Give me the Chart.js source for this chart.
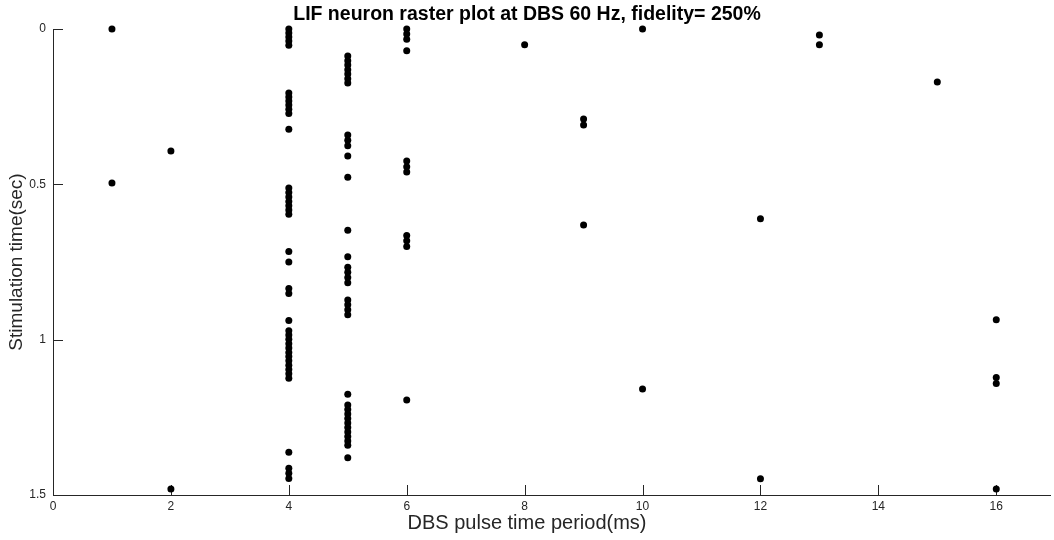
<!DOCTYPE html>
<html>
<head>
<meta charset="utf-8">
<title>LIF raster</title>
<script src="https://cdn.jsdelivr.net/npm/chart.js@4.4.1/dist/chart.umd.min.js"></script>
<style>
  html, body { margin: 0; padding: 0; background: #fff; overflow: hidden; }
  #box { width: 1054px; height: 540px; position: relative; }
</style>
</head>
<body>
<div id="box"><canvas id="rasterChart"></canvas></div>
<script>
// spike times (sec), one array per DBS pulse period (ms)
const spikes1 = [0, 0.496];
const spikes2 = [0.393, 1.481];
const spikes4 = [0, 0.013, 0.026, 0.039, 0.052, 0.206, 0.219, 0.232, 0.245, 0.258, 0.272, 0.323,
    0.512, 0.526, 0.541, 0.555, 0.569, 0.583, 0.596, 0.716, 0.750, 0.835, 0.851, 0.938,
    0.971, 0.985, 0.999, 1.013, 1.027, 1.041, 1.054, 1.068, 1.082, 1.096, 1.110, 1.124,
    1.362, 1.414, 1.430, 1.447];
const spikes5 = [0.087, 0.102, 0.116, 0.131, 0.145, 0.160, 0.174, 0.341, 0.358, 0.376, 0.409, 0.477,
    0.648, 0.733, 0.767, 0.783, 0.800, 0.817, 0.872, 0.888, 0.904, 0.920, 1.176,
    1.210, 1.225, 1.239, 1.254, 1.268, 1.283, 1.297, 1.312, 1.326, 1.340, 1.380];
const spikes6 = [0, 0.016, 0.033, 0.070, 0.425, 0.443, 0.460, 0.665, 0.682, 0.700, 1.194];
const spikes8 = [0.051];
const spikes9 = [0.290, 0.309, 0.631];
const spikes10 = [0, 1.159];
const spikes12 = [0.611, 1.448];
const spikes13 = [0.019, 0.051];
const spikes15 = [0.171];
const spikes16 = [0.936, 1.122, 1.141, 1.481];

const periods = [1, 2, 4, 5, 6, 8, 9, 10, 12, 13, 15, 16];
const spikeLists = [spikes1, spikes2, spikes4, spikes5, spikes6, spikes8, spikes9, spikes10,
    spikes12, spikes13, spikes15, spikes16];

const xTicks = [0, 2, 4, 6, 8, 10, 12, 14, 16];
const yTicks = [0, 0.5, 1, 1.5];

const AXIS_COLOR = "#262626";
const FONT = "'Liberation Sans', Arial, Helvetica, sans-serif";

let points = [];
for (let i = 0; i < periods.length; i++) {
    for (let j = 0; j < spikeLists[i].length; j++) {
        points.push({x: periods[i], y: spikeLists[i][j]});
    }
}

// matlab style ticks pointing into the axes
const innerTicks = {
    id: "innerTicks",
    beforeDatasetsDraw(chart) {
        const ctx = chart.ctx;
        const area = chart.chartArea;
        const xs = chart.scales.x;
        const ys = chart.scales.y;
        ctx.save();
        ctx.strokeStyle = AXIS_COLOR;
        ctx.lineWidth = 1;
        ctx.beginPath();
        xTicks.forEach(v => {
            const px = Math.round(xs.getPixelForValue(v)) + 0.5;
            ctx.moveTo(px, area.bottom);
            ctx.lineTo(px, area.bottom - 10);
        });
        yTicks.forEach(v => {
            const py = Math.round(ys.getPixelForValue(v)) + 0.5;
            ctx.moveTo(area.left, py);
            ctx.lineTo(area.left + 10, py);
        });
        ctx.stroke();
        ctx.restore();
    }
};

const ctx = document.getElementById("rasterChart").getContext("2d");

const rasterChart = new Chart(ctx, {
    type: "scatter",
    data: {
        datasets: [{
            label: "spikes",
            data: points,
            backgroundColor: "#000",
            borderColor: "#000",
            borderWidth: 0,
            pointRadius: 3.5,
            pointHoverRadius: 3.5,
            clip: false
        }]
    },
    options: {
        responsive: true,
        maintainAspectRatio: false,
        animation: false,
        layout: { padding: 0 },
        plugins: {
            legend: { display: false },
            tooltip: { enabled: false },
            title: {
                display: true,
                text: "LIF neuron raster plot at DBS 60 Hz, fidelity= 250%",
                color: "#000",
                font: { family: FONT, size: 19.5, weight: "bold", lineHeight: 1.2 },
                padding: { top: 3, bottom: 2.6 }
            },
            subtitle: {
                display: true,
                position: "bottom",
                text: "DBS pulse time period(ms)",
                color: AXIS_COLOR,
                font: { family: FONT, size: 20, lineHeight: 1.2 },
                padding: { top: 0, bottom: 5 }
            }
        },
        scales: {
            x: {
                type: "linear",
                min: 0,
                max: 16.92,
                afterFit: scale => { scale.height = 16; },
                grid: { display: false, drawTicks: false },
                border: { display: true, color: AXIS_COLOR, width: 1 },
                ticks: {
                    stepSize: 2,
                    includeBounds: false,
                    padding: 4,
                    color: AXIS_COLOR,
                    maxRotation: 0,
                    font: { family: FONT, size: 12 }
                }
            },
            y: {
                type: "linear",
                reverse: true,
                min: 0,
                max: 1.5,
                afterFit: scale => { scale.width = 53; },
                grid: { display: false, drawTicks: false },
                border: { display: true, color: AXIS_COLOR, width: 1 },
                ticks: {
                    stepSize: 0.5,
                    padding: 7,
                    color: AXIS_COLOR,
                    font: { family: FONT, size: 12 },
                    callback: value => String(Number(value))
                },
                title: {
                    display: true,
                    text: "Stimulation time(sec)",
                    color: AXIS_COLOR,
                    font: { family: FONT, size: 19, lineHeight: 1.2 },
                    padding: { top: 5.6, bottom: 0 }
                }
            }
        }
    },
    plugins: [innerTicks]
});
</script>
</body>
</html>
